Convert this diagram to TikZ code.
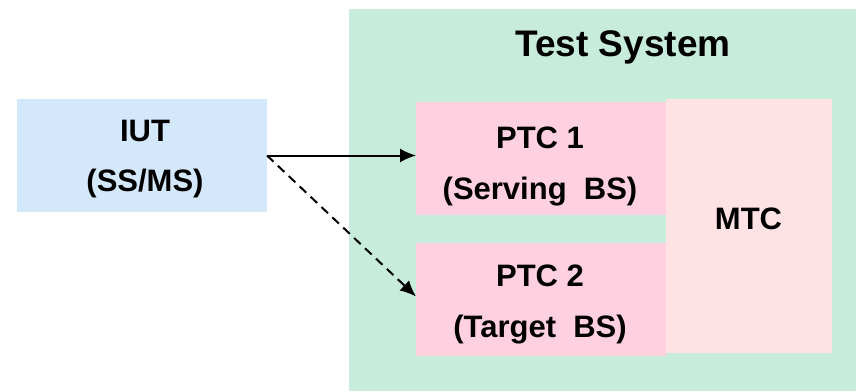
\documentclass[tikz,border=0pt]{standalone}
\usepackage{fontspec}
\setmainfont{Liberation Sans}
\usetikzlibrary{arrows.meta}
\definecolor{sysgreen}{RGB}{200,236,220}
\definecolor{iutblue}{RGB}{212,232,252}
\definecolor{ptcpink}{RGB}{255,208,224}
\definecolor{mtcpink}{RGB}{255,226,228}
\tikzset{
    box/.style={rectangle, inner sep=0pt, outer sep=0pt, anchor=north west},
    boxtext/.style={align=center, inner sep=0pt, font=\fontsize{31}{50.5}\selectfont\bfseries},
    conn/.style={line width=2pt, -{Latex[length=16pt,width=14pt]}}
}

\begin{document}
\begin{tikzpicture}[x=1pt,y=1pt]
        \useasboundingbox (0,0) rectangle (856,-391);
        \node[box, fill=sysgreen, minimum width=507pt, minimum height=382pt] (sys) at (349,-9) {};
        \node[anchor=base, inner sep=0pt, font=\fontsize{37}{44}\selectfont\bfseries] (systitle) at (623,-56) {Test System};
        \node[box, fill=iutblue, minimum width=250pt, minimum height=113pt] (iut) at (17,-99) {};
        \node[box, fill=ptcpink, minimum width=250pt, minimum height=113pt] (ptcA) at (416,-102) {};
        \node[box, fill=ptcpink, minimum width=250pt, minimum height=113pt] (ptcB) at (416,-243) {};
        \node[box, fill=mtcpink, minimum width=166pt, minimum height=254pt] (mtc) at (666,-99) {};
        \node[boxtext] (iuttext) at (145,-159) {IUT\\(SS/MS)};
        \node[boxtext] (ptcAtext) at (540,-166.5) {PTC 1\\(Serving~~BS)};
        \node[boxtext] (ptcBtext) at (540,-304.5) {PTC 2\\(Target~~BS)};
        \node[boxtext] (mtctext) at (748.5,-218.5) {MTC};
        \draw[conn] (iut.east) -- (iut.east -| ptcA.west);
        \draw[conn, dash pattern=on 9pt off 6pt] (iut.east) -- ([yshift=3pt]ptcB.west);
    \end{tikzpicture}
\end{document}
